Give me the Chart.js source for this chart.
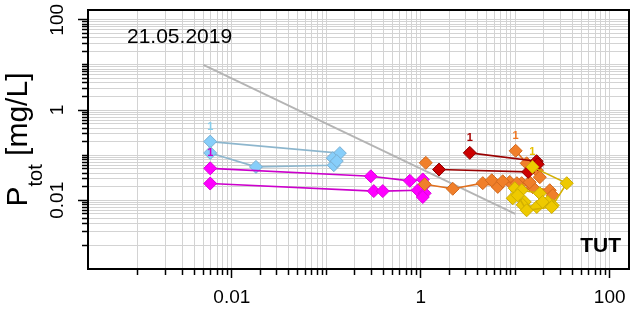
<!DOCTYPE html>
<html>
<head>
<meta charset="utf-8">
<script src="https://cdn.jsdelivr.net/npm/chart.js@4.4.0/dist/chart.umd.min.js"></script>
<style>
    html, body { margin: 0; padding: 0; background: #fff; }
    #wrap { width: 630px; height: 312px; }
</style>
</head>
<body>
<div id="wrap"><canvas id="chart" width="630" height="312"></canvas></div>
<script>
// Log-log scatter, P_tot against x, one line per sample run.
// Each series is a list of [x, y] pairs.

const refLine   = [[0.005, 10], [10, 0.005]];

const blueA     = [[0.0059, 0.20], [0.139, 0.111], [0.117, 0.086]];
const blueB     = [[0.0059, 0.112], [0.018, 0.055], [0.120, 0.060], [0.129, 0.074]];

const magentaA  = [[0.0059, 0.051], [0.296, 0.034], [0.765, 0.027], [1.05, 0.029], [1.08, 0.021]];
const magentaB  = [[0.0059, 0.0235], [0.318, 0.016], [0.396, 0.016], [0.93, 0.0167], [1.10, 0.0143], [1.05, 0.0118]];

const orangeA   = [[10.1, 0.125], [13.2, 0.066], [16.9, 0.046], [18.2, 0.0325]];
const orangeB   = [[1.13, 0.0675]];
const orangeC   = [[1.10, 0.0226], [2.18, 0.018], [4.53, 0.024], [6.53, 0.0198], [8.74, 0.0255],
                   [11.7, 0.024], [15.3, 0.0195], [23.2, 0.0167], [24.9, 0.0129]];
const orangeD   = [[5.64, 0.0278], [7.37, 0.0264], [10.4, 0.0239], [14.2, 0.0251]];

const redA      = [[3.30, 0.1125], [16.8, 0.0736], [17.3, 0.063]];
const redB      = [[1.56, 0.048], [13.7, 0.0426]];

const goldA     = [[15.2, 0.055], [35.1, 0.0239], [24.9, 0.0077]];
const goldB     = [[9.88, 0.0185], [11.7, 0.0167], [18.2, 0.0143], [22.1, 0.0092]];
const goldC     = [[9.41, 0.0111], [12.6, 0.0092], [12.0, 0.0079], [16.9, 0.0071]];
const goldD     = [[10.6, 0.0129], [13.2, 0.006], [24.3, 0.0071], [19.5, 0.0092]];

const xTickValues = [0.01, 1, 100];
const xTickLabels = ["0.01", "1", "100"];
const yTickValues = [0.01, 1, 100];
const yTickLabels = ["0.01", "1", "100"];

const dateText = "21.05.2019";
const siteText = "TUT";
const runLabel = "1";

const FONT = "'Liberation Sans', Arial, sans-serif";

// grid at 1..9 x 10^k, from 0.001 up to 100
const GRID_VALUES = [];
for (let e = -3; e <= 1; e++) {
    for (let k = 1; k <= 9; k++) GRID_VALUES.push(k * Math.pow(10, e));
}
GRID_VALUES.push(100);

function labelFor(v, values, labels) {
    const i = values.findIndex(t => Math.abs(v / t - 1) < 1e-6);
    return i >= 0 ? labels[i] : "";
}

function series(points, fill, edge, line, label, labelColor) {
    return {
        type: "line",
        data: points.map(p => ({ x: p[0], y: p[1] })),
        borderColor: line,
        borderWidth: 1.6,
        pointStyle: "rectRot",
        pointRadius: 6.5,
        pointHoverRadius: 6.5,
        pointBackgroundColor: fill,
        pointBorderColor: edge,
        pointBorderWidth: 1,
        tension: 0,
        __label: label,
        __labelColor: labelColor
    };
}

const datasets = [
    {
        type: "line",
        data: refLine.map(p => ({ x: p[0], y: p[1] })),
        borderColor: "#B4B4B4",
        borderWidth: 1.8,
        pointRadius: 0
    },
    series(blueA, "#87CEFA", "#7AAFD2", "#8DB6CD", runLabel, "#87CEEB"),
    series(blueB, "#87CEFA", "#7AAFD2", "#8DB6CD"),
    series(magentaA, "#FF00FF", "#DD00DD", "#CC00CC", runLabel, "#CC00CC"),
    series(magentaB, "#FF00FF", "#DD00DD", "#CC00CC"),
    series(orangeA, "#F07F2A", "#D2691E", "#E0701F", runLabel, "#EE7621"),
    series(orangeB, "#F07F2A", "#D2691E", "#E0701F"),
    series(orangeC, "#F07F2A", "#D2691E", "#E0701F"),
    series(orangeD, "#F07F2A", "#D2691E", "#E0701F"),
    series(redA, "#CC0000", "#8B0000", "#990000", runLabel, "#A50000"),
    series(redB, "#CC0000", "#8B0000", "#990000"),
    series(goldA, "#EEC900", "#CDAD00", "#D4B000", runLabel, "#E6C000"),
    series(goldB, "#EEC900", "#CDAD00", "#D4B000"),
    series(goldC, "#EEC900", "#CDAD00", "#D4B000"),
    series(goldD, "#EEC900", "#CDAD00", "#D4B000")
];
// later datasets on top
datasets.forEach((ds, i) => { ds.order = -i; });

const isMajor = (ctx, values) => !!(ctx.tick && labelFor(ctx.tick.value, values, values.map(String)));

const plotDecor = {
    id: "plotDecor",
    afterDatasetsDraw(chart) {
        const { ctx } = chart;
        ctx.save();
        ctx.font = `bold 11px ${FONT}`;
        ctx.textAlign = "center";
        ctx.textBaseline = "alphabetic";
        chart.data.datasets.forEach((ds, i) => {
            if (!ds.__label) return;
            const pt = chart.getDatasetMeta(i).data[0];
            ctx.fillStyle = ds.__labelColor;
            ctx.fillText(ds.__label, pt.x, pt.y - 12);
        });
        ctx.restore();
    },
    afterDraw(chart) {
        const { ctx, chartArea: a } = chart;
        ctx.save();
        ctx.strokeStyle = "#000";
        ctx.lineWidth = 2;
        ctx.strokeRect(a.left, a.top, a.right - a.left, a.bottom - a.top);

        ctx.fillStyle = "#000";
        ctx.textBaseline = "alphabetic";
        ctx.font = `21px ${FONT}`;
        ctx.textAlign = "left";
        ctx.fillText(dateText, a.left + 39, a.top + 33);

        ctx.font = `bold 21px ${FONT}`;
        ctx.textAlign = "right";
        ctx.fillText(siteText, a.right - 8, a.bottom - 17);

        // y title: P with subscript tot, rotated
        const cy = (a.top + a.bottom) / 2;
        ctx.translate(27, cy);
        ctx.rotate(-Math.PI / 2);
        ctx.textAlign = "left";
        ctx.font = `30px ${FONT}`;
        const wP = ctx.measureText("P").width;
        const rest = " [mg/L]";
        const wRest = ctx.measureText(rest).width;
        ctx.font = `20px ${FONT}`;
        const wSub = ctx.measureText("tot").width;
        let x0 = -(wP + wSub + wRest) / 2;
        ctx.font = `30px ${FONT}`;
        ctx.fillText("P", x0, 0);
        ctx.font = `20px ${FONT}`;
        ctx.fillText("tot", x0 + wP, 15);
        ctx.font = `30px ${FONT}`;
        ctx.fillText(rest, x0 + wP + wSub, 0);
        ctx.restore();
    }
};

new Chart(document.getElementById("chart"), {
    type: "line",
    data: { datasets },
    options: {
        responsive: false,
        animation: false,
        devicePixelRatio: 1,
        layout: { autoPadding: false, padding: { top: 10, right: 1, left: 0, bottom: 0 } },
        plugins: { legend: { display: false }, tooltip: { enabled: false } },
        scales: {
            x: {
                type: "logarithmic",
                position: "bottom",
                min: 0.0003,
                max: 160,
                afterBuildTicks: s => { s.ticks = GRID_VALUES.map(v => ({ value: v })); },
                afterFit: s => { s.height = 43; s.paddingLeft = 0; s.paddingRight = 0; },
                border: { color: "#000", width: 2 },
                grid: {
                    color: "#D3D3D3",
                    lineWidth: 1,
                    tickLength: 9,
                    tickColor: "#000",
                    tickWidth: 1.5,
                    tickBorderDash: ctx => isMajor(ctx, xTickValues) ? [] : [5, 100]
                },
                ticks: {
                    autoSkip: false,
                    minRotation: 0,
                    maxRotation: 0,
                    padding: 8,
                    color: "#000",
                    font: { family: FONT, size: 19 },
                    callback: v => labelFor(v, xTickValues, xTickLabels)
                }
            },
            y: {
                type: "logarithmic",
                position: "left",
                min: 0.0003,
                max: 165,
                afterBuildTicks: s => { s.ticks = GRID_VALUES.map(v => ({ value: v })); },
                afterFit: s => { s.width = 88; s.paddingTop = 0; s.paddingBottom = 0; },
                border: { color: "#000", width: 2 },
                grid: {
                    color: "#D3D3D3",
                    lineWidth: 1,
                    tickLength: 10,
                    tickColor: "#000",
                    tickWidth: 1.5,
                    tickBorderDash: ctx => isMajor(ctx, yTickValues) ? [] : [0, 4, 5, 100]
                },
                ticks: {
                    autoSkip: false,
                    minRotation: 90,
                    maxRotation: 90,
                    crossAlign: "center",
                    padding: 2,
                    color: "#000",
                    font: { family: FONT, size: 19 },
                    callback: v => labelFor(v, yTickValues, yTickLabels)
                }
            }
        }
    },
    plugins: [plotDecor]
});
</script>
</body>
</html>
